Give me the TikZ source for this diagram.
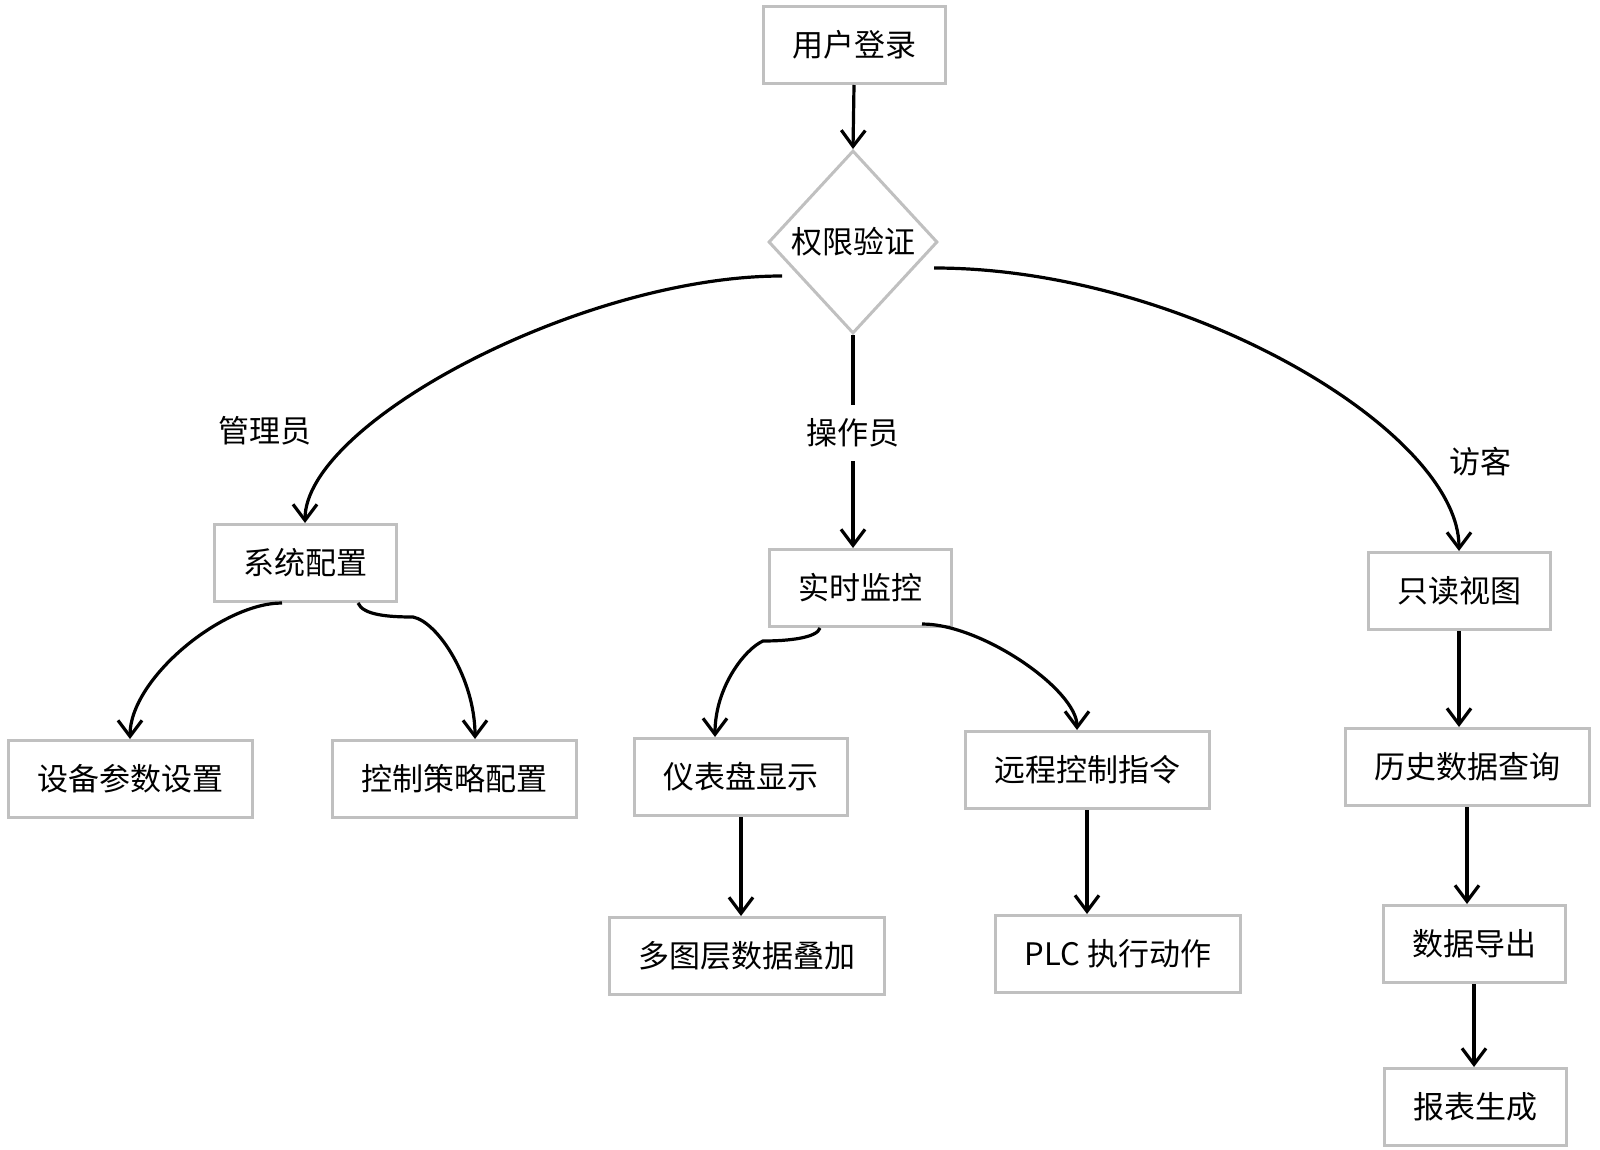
\documentclass[tikz,border=0pt]{standalone}
\usepackage{fontspec}
\setmainfont{Noto Sans CJK SC}
\usetikzlibrary{shapes.geometric,arrows.meta}
\definecolor{boxgray}{RGB}{192,192,192}
\begin{document}
\begin{tikzpicture}[x=1pt, y=-1pt, >={Straight Barb[length=16pt,width=24pt]},
    font=\fontsize{31}{37}\selectfont,
    proc/.style={draw=boxgray, line width=3pt, inner xsep=29pt, minimum height=77pt},
    decide/.style={diamond, draw=boxgray, line width=3pt, inner sep=0pt,
      minimum width=169pt, minimum height=183pt},
    flow/.style={->, line width=3.2pt}]
  \useasboundingbox (0,0) rectangle (1600,1150);
  % 登录与权限验证
  \node[proc] (login) at (854,45) {用户登录};
  \node[decide] (auth) at (853,242) {权限验证};
  \draw[flow] (login.south) -- (auth.north);
  % 三种角色
  \node[proc] (syscfg) at (305,563) {系统配置};
  \node[proc] (monitor) at (860,588) {实时监控};
  \node[proc] (readonly) at (1459,591) {只读视图};
  \node (admin) at (265,431) {管理员};
  \node (guest) at (1480,462) {访客};
  \draw[flow] ([xshift=15pt,yshift=-34pt]auth.west)
    .. controls +(-200,0) and +(0,-100) .. (syscfg.north);
  \draw[flow] (auth.south) -- (auth.south |- monitor.north)
    node[pos=0.46, fill=white, inner ysep=14pt] (oper) {操作员};
  \draw[flow] ([xshift=-5pt,yshift=-26pt]auth.east)
    .. controls +(250,0) and +(0,-120) .. (readonly.north);
  % 管理员分支
  \node[proc] (devparam) at (130,779) {设备参数设置};
  \node[proc] (ctrlpolicy) at (454,779) {控制策略配置};
  \draw[flow] ([xshift=-23pt]syscfg.south)
    .. controls +(-60,0) and +(0,-60) .. (devparam.north);
  \draw[flow] ([xshift=53pt]syscfg.south)
    .. controls +(5,12) and +(-25,0) .. ++(55,14)
    .. controls +(25,5) and +(0,-60) .. ([xshift=21pt]ctrlpolicy.north);
  % 操作员分支
  \node[proc] (dashboard) at (741,777) {仪表盘显示};
  \node[proc] (remote) at (1087,770) {远程控制指令};
  \node[proc] (layers) at (747,956) {多图层数据叠加};
  \node[proc] (plc) at (1118,954) {PLC 执行动作};
  \draw[flow] ([xshift=-40pt]monitor.south)
    .. controls +(-3,10) and +(25,0) .. ++(-57,13)
    .. controls +(-18,8) and +(0,-50) .. ([xshift=-26pt]dashboard.north);
  \draw[flow] ([xshift=62pt,yshift=4pt]monitor.south)
    .. controls +(60,0) and +(0,-40) .. ([xshift=-10pt]remote.north);
  \draw[flow] (dashboard.south) -- (dashboard.south |- layers.north);
  \draw[flow] (remote.south) -- (remote.south |- plc.north);
  % 访客分支
  \node[proc] (history) at (1467,767) {历史数据查询};
  \node[proc] (export) at (1474,944) {数据导出};
  \node[proc] (report) at (1475,1107) {报表生成};
  \draw[flow] (readonly.south) -- (readonly.south |- history.north);
  \draw[flow] (history.south) -- (history.south |- export.north);
  \draw[flow] (export.south) -- (export.south |- report.north);
\end{tikzpicture}
\end{document}
